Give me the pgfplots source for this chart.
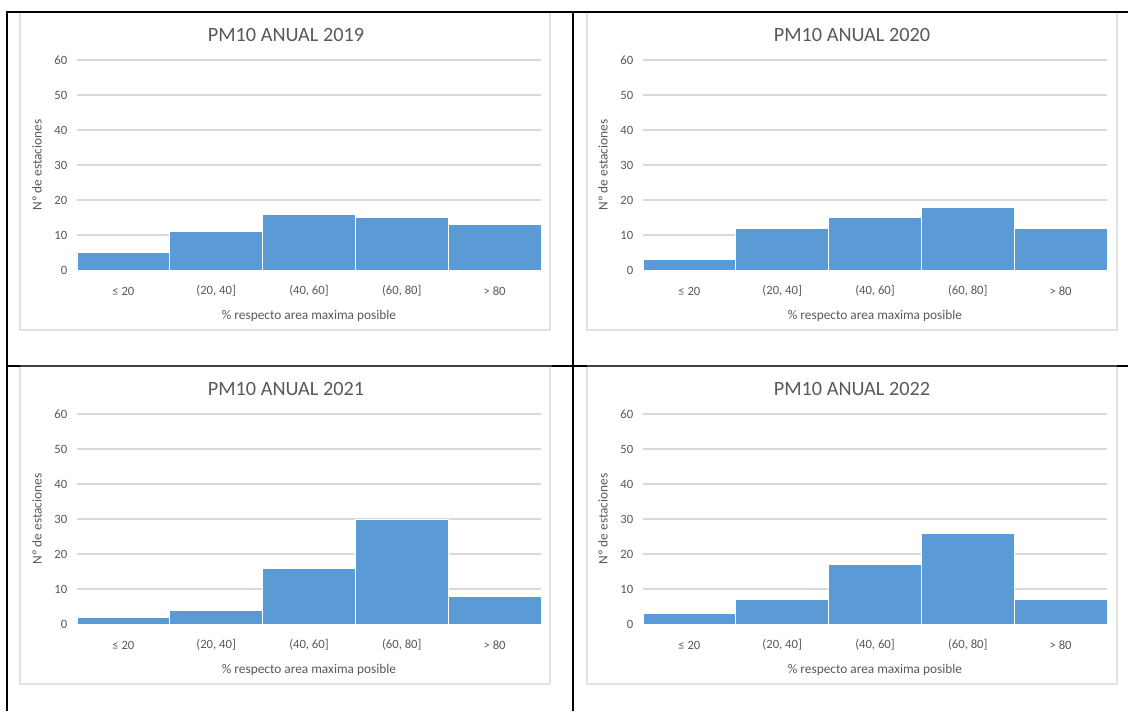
\documentclass[border=0pt]{standalone}
\usepackage{fontspec}
\setmainfont{Carlito}
\usepackage{pgfplots}
\pgfplotsset{compat=1.18}

\definecolor{barblue}{HTML}{5B9BD5}
\definecolor{txtgray}{HTML}{595959}
\definecolor{gridgray}{HTML}{D9D9D9}
\definecolor{axisgray}{HTML}{C8C8C8}
\definecolor{framegray}{HTML}{E2E2E2}

\pgfplotsset{
  histo/.style={
    scale only axis, width=348pt, height=157.5pt,
    anchor=south west,
    xmin=-0.5, xmax=4.5, ymin=0, ymax=60,
    ytick={0,10,...,60},
    xtick={0,...,4},
    xticklabels={≤ 20,{(20, 40]},{(40, 60]},{(60, 80]},> 80},
    ymajorgrids, grid style={draw=gridgray, line width=0.8pt},
    axis x line*=bottom, axis y line*=left,
    x axis line style={draw=axisgray, line width=0.8pt},
    y axis line style={draw=none},
    major tick length=0pt,
    tick label style={font=\fontsize{9.5}{11}\selectfont, text=txtgray},
    /pgf/number format/assume math mode=true,
    xticklabel style={anchor=center, yshift=-15.75pt},
    yticklabel style={xshift=-3.75pt},
    ylabel={Nº de estaciones},
    xlabel={\% respecto area maxima posible},
    every axis y label/.style={at={(axis description cs:-0.0862,0.5)},
      anchor=center, rotate=90, font=\fontsize{10}{12}\selectfont, text=txtgray},
    every axis x label/.style={at={(axis description cs:0.5,-0.219)},
      anchor=center, font=\fontsize{10}{12}\selectfont, text=txtgray},
    every axis title/.style={at={(axis description cs:0.4504,1.119)},
      anchor=center, font=\fontsize{15.2}{18}\selectfont, text=txtgray},
    ybar, bar width=1, bar shift=0pt,
    clip=false,
  },
  hbar/.style={fill=barblue, draw=white, line width=0.6pt},
}

\begin{document}
\begin{tikzpicture}
\useasboundingbox (0,0) rectangle (846pt,-533.25pt);

% chart frames
\foreach \fx/\fy in {15/-9, 440.25/-9, 15/-274.5, 440.25/-274.5}{
  \filldraw[fill=white, draw=framegray, line width=0.8pt]
    (\fx pt,\fy pt) rectangle ++(397.5pt,-238.5pt);
}

% table rules
\begin{scope}[line width=1.6pt, black]
  \draw (5.25pt,-9pt) -- (5.25pt,-533.25pt);
  \draw (429.75pt,-9pt) -- (429.75pt,-533.25pt);
  \draw (4.45pt,-9pt) -- (846pt,-9pt);
  \draw[draw=black!75] (4.45pt,-274.5pt) -- (846pt,-274.5pt);
  \draw (838pt,-274.5pt) -- (846pt,-274.5pt);
  \draw (4.45pt,-274.5pt) -- (15pt,-274.5pt);
  \draw (414pt,-274.5pt) -- (440pt,-274.5pt);
\end{scope}

% PM10 2019
\begin{axis}[histo, at={(57.75pt,-202.5pt)}, title={PM10 ANUAL 2019}]
  \addplot[hbar] coordinates {(0,5) (1,11) (2,16) (3,15) (4,13)};
\end{axis}

% PM10 2020
\begin{axis}[histo, at={(482.25pt,-202.5pt)}, title={PM10 ANUAL 2020}]
  \addplot[hbar] coordinates {(0,3) (1,12) (2,15) (3,18) (4,12)};
\end{axis}

% PM10 2021
\begin{axis}[histo, at={(57.75pt,-468pt)}, title={PM10 ANUAL 2021}]
  \addplot[hbar] coordinates {(0,2) (1,4) (2,16) (3,30) (4,8)};
\end{axis}

% PM10 2022
\begin{axis}[histo, at={(482.25pt,-468pt)}, title={PM10 ANUAL 2022}]
  \addplot[hbar] coordinates {(0,3) (1,7) (2,17) (3,26) (4,7)};
\end{axis}
\end{tikzpicture}
\end{document}
